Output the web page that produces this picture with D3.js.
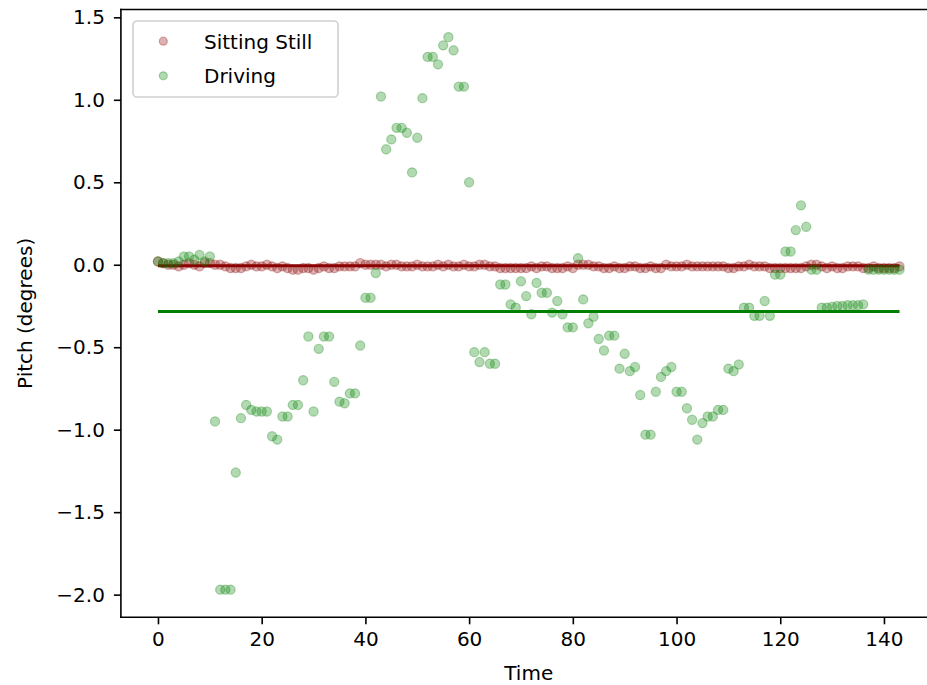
<!DOCTYPE html>
<html>
<head>
<meta charset="utf-8">
<script src="https://cdn.jsdelivr.net/npm/d3@7"></script>
<style>
  html, body { margin: 0; padding: 0; background: #fff; }
  svg { display: block; font-family: "DejaVu Sans", sans-serif; }
</style>
</head>
<body>
<svg id="chart" width="927" height="685"></svg>
<script>
// ---- data ----
const sittingStill = [
  0.02, 0.01, 0.0, 0.0, -0.01, 0.0, 0.01, 0.0, -0.01, 0.01,
  0.01, 0.0, 0.0, -0.01, -0.02, -0.02, -0.02, -0.01, 0.0, -0.01,
  -0.01, 0.0, -0.01, -0.02, -0.01, -0.02, -0.03, -0.03, -0.02, -0.02,
  -0.03, -0.02, -0.01, -0.02, -0.02, -0.01, -0.01, -0.01, -0.01, 0.01,
  0.0, 0.0, 0.0, 0.0, -0.01, 0.0, 0.0, -0.01, -0.01, -0.01,
  0.0, -0.01, -0.01, -0.01, 0.0, -0.01, 0.0, -0.01, -0.01, 0.0,
  -0.01, -0.01, 0.0, 0.0, -0.01, -0.01, -0.02, -0.02, -0.02, -0.02,
  -0.02, -0.02, -0.01, -0.02, -0.01, -0.01, -0.02, -0.02, -0.02, -0.01,
  -0.02, 0.0, 0.0, 0.0, -0.01, -0.01, -0.02, -0.02, -0.01, -0.02,
  -0.02, -0.01, -0.01, -0.02, -0.02, -0.01, -0.02, -0.02, 0.0, -0.01,
  -0.01, -0.01, 0.0, -0.01, -0.01, -0.01, -0.01, -0.01, -0.01, -0.01,
  -0.02, -0.02, -0.01, -0.01, 0.0, -0.01, -0.01, -0.01, -0.02, -0.02,
  -0.02, -0.02, -0.02, -0.02, -0.02, -0.01, 0.0, 0.0, -0.01, -0.02,
  -0.01, -0.02, -0.02, -0.01, -0.01, -0.01, -0.02, -0.02, -0.01, -0.02,
  -0.02, -0.02, -0.02, -0.01
];
const driving = [
  0.02, 0.01, 0.01, 0.01, 0.02, 0.05, 0.05, 0.03, 0.06, 0.02,
  0.05, -0.95, -1.97, -1.97, -1.97, -1.26, -0.93, -0.85, -0.88, -0.89,
  -0.89, -0.89, -1.04, -1.06, -0.92, -0.92, -0.85, -0.85, -0.70, -0.435,
  -0.89, -0.51, -0.435, -0.435, -0.71, -0.83, -0.84, -0.78, -0.78, -0.49,
  -0.20, -0.20, -0.05, 1.02, 0.70, 0.76, 0.83, 0.83, 0.80, 0.56,
  0.77, 1.01, 1.26, 1.26, 1.215, 1.33, 1.38, 1.30, 1.08, 1.08,
  0.50, -0.53, -0.59, -0.53, -0.60, -0.60, -0.12, -0.12, -0.24, -0.26,
  -0.10, -0.19, -0.30, -0.11, -0.17, -0.17, -0.29, -0.22, -0.30, -0.38,
  -0.38, 0.04, -0.21, -0.355, -0.315, -0.45, -0.52, -0.43, -0.43, -0.63,
  -0.54, -0.645, -0.62, -0.79, -1.03, -1.03, -0.77, -0.68, -0.645, -0.62,
  -0.77, -0.77, -0.87, -0.94, -1.06, -0.96, -0.92, -0.92, -0.88, -0.88,
  -0.63, -0.645, -0.605, -0.26, -0.26, -0.31, -0.31, -0.22, -0.31, -0.06,
  -0.06, 0.08, 0.08, 0.21, 0.36, 0.23, -0.03, -0.03, -0.26, -0.26,
  -0.255, -0.25, -0.25, -0.245, -0.245, -0.245, -0.24, -0.03, -0.03, -0.03,
  -0.03, -0.03, -0.03, -0.03
];
const sittingMean = -0.006;
const drivingMean = -0.284;
const seriesNames = ["Sitting Still", "Driving"];
const xTicks = [0, 20, 40, 60, 80, 100, 120, 140];
const yTicks = [-2.0, -1.5, -1.0, -0.5, 0.0, 0.5, 1.0, 1.5];
const xLabel = "Time";
const yLabel = "Pitch (degrees)";

// ---- drawing ----
const svg = d3.select("#chart");
const x = d3.scaleLinear().domain([-7.15, 150.15]).range([120.9, 936.6]);
const y = d3.scaleLinear().domain([-2.1375, 1.5475]).range([617.3, 9.5]);
const fmt = v => (v < 0 ? "\u2212" : "") + Math.abs(v).toFixed(1);

function scatter(data, color, op) {
  svg.append("g").selectAll("circle").data(data).join("circle")
    .attr("cx", (d, i) => x(i)).attr("cy", d => y(d)).attr("r", 4.6)
    .attr("fill", color).attr("fill-opacity", op)
    .attr("stroke", color).attr("stroke-opacity", op).attr("stroke-width", 1.2);
}
function hline(v, n, color) {
  svg.append("line")
    .attr("x1", x(0)).attr("x2", x(n - 1))
    .attr("y1", y(v)).attr("y2", y(v))
    .attr("stroke", color).attr("stroke-width", 3);
}

scatter(sittingStill, "#8b0000", 0.3);
hline(sittingMean, sittingStill.length, "#8b0000");
scatter(driving, "#008000", 0.3);
hline(drivingMean, driving.length, "#008000");

// axes
const xAxis = d3.axisBottom(x).tickValues(xTicks).tickFormat(d3.format("d"))
  .tickSizeInner(7).tickSizeOuter(0).tickPadding(8);
const yAxis = d3.axisLeft(y).tickValues(yTicks).tickFormat(fmt)
  .tickSizeInner(7).tickSizeOuter(0).tickPadding(9);

const gx = svg.append("g").attr("transform", "translate(0,617.3)").call(xAxis);
const gy = svg.append("g").attr("transform", "translate(120.9,0)").call(yAxis);
[gx, gy].forEach(g => {
  g.selectAll("text").attr("font-size", 20).attr("fill", "#000")
    .attr("font-family", "DejaVu Sans, sans-serif");
  g.selectAll("line").attr("stroke", "#000").attr("stroke-width", 1.6);
  g.select(".domain").remove();
});

// spines
svg.append("line").attr("x1", 120.9).attr("x2", 120.9).attr("y1", 9.5).attr("y2", 617.3)
  .attr("stroke", "#000").attr("stroke-width", 1.6).attr("stroke-linecap", "square");
svg.append("line").attr("x1", 120.9).attr("x2", 936.6).attr("y1", 617.3).attr("y2", 617.3)
  .attr("stroke", "#000").attr("stroke-width", 1.6).attr("stroke-linecap", "square");
svg.append("line").attr("x1", 120.9).attr("x2", 936.6).attr("y1", 9.5).attr("y2", 9.5)
  .attr("stroke", "#000").attr("stroke-width", 1.6).attr("stroke-linecap", "square");

// axis labels
svg.append("text").attr("x", (120.9 + 936.6) / 2).attr("y", 679.5)
  .attr("text-anchor", "middle").attr("font-size", 20).text(xLabel);
svg.append("text").attr("transform", "translate(32," + ((9.5 + 617.3) / 2) + ") rotate(-90)")
  .attr("text-anchor", "middle").attr("font-size", 20).text(yLabel);

// legend
const lg = svg.append("g");
lg.append("rect").attr("x", 133).attr("y", 21).attr("width", 205).attr("height", 76)
  .attr("rx", 4).attr("fill", "#fff").attr("fill-opacity", 0.8)
  .attr("stroke", "#d0d0d0").attr("stroke-width", 1.6);
const legendColors = ["#8b0000", "#008000"];
seriesNames.forEach((name, i) => {
  const cy = 41.2 + i * 34.6;
  lg.append("circle").attr("cx", 163.3).attr("cy", cy).attr("r", 4)
    .attr("fill", legendColors[i]).attr("fill-opacity", 0.3)
    .attr("stroke", legendColors[i]).attr("stroke-opacity", 0.3).attr("stroke-width", 1.2);
  lg.append("text").attr("x", 204).attr("y", cy + 7.3)
    .attr("font-size", 20).attr("fill", "#000").text(name);
});
</script>
</body>
</html>
